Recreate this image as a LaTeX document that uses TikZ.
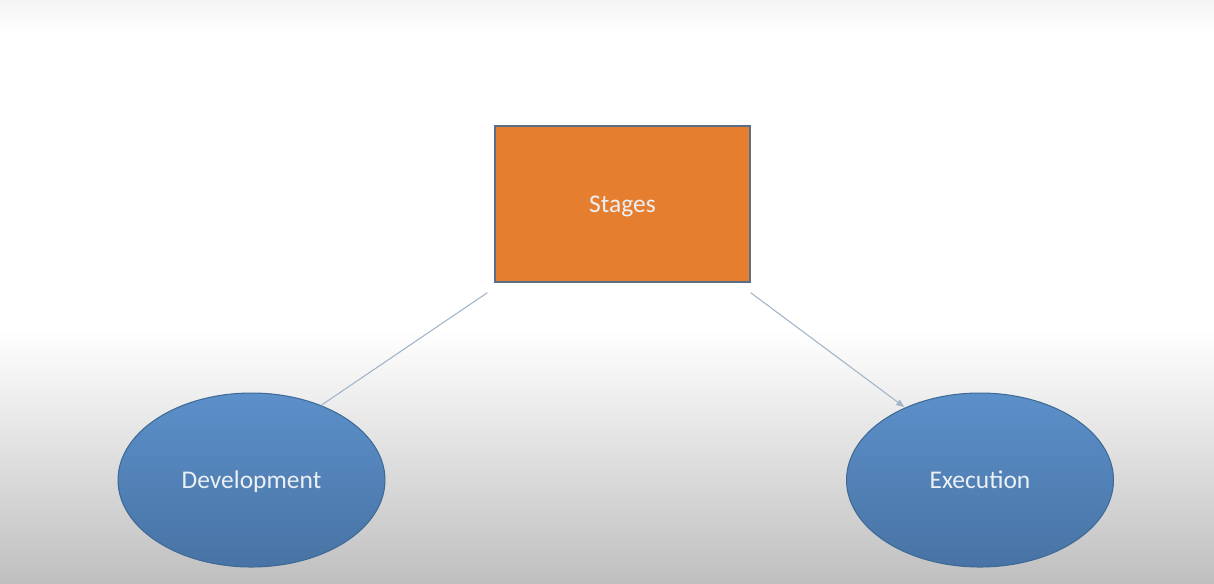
\documentclass[tikz,border=0pt]{standalone}
\usepackage{fontspec}
\setmainfont{Carlito}
\usetikzlibrary{positioning,shapes.geometric,arrows.meta}
\definecolor{stageorange}{RGB}{230,126,48}
\definecolor{stageedge}{RGB}{90,110,135}
\definecolor{ovaltop}{RGB}{92,144,202}
\definecolor{ovalbot}{RGB}{72,115,164}
\definecolor{ovaledge}{RGB}{62,106,150}
\definecolor{linkcol}{RGB}{160,180,200}
\definecolor{labelcol}{RGB}{236,240,245}
\tikzset{box/.style={draw=stageedge,line width=0.8pt,fill=stageorange,minimum width=5.1cm,minimum height=3.12cm,inner sep=0pt,text depth=0pt,text=labelcol,font=\fontsize{14.5}{17}\selectfont},
         oval/.style={ellipse,draw=ovaledge,line width=0.6pt,top color=ovaltop,bottom color=ovalbot,minimum width=5.34cm,minimum height=3.48cm,inner sep=0pt,text depth=0pt,text=labelcol,font=\fontsize{14.5}{17}\selectfont},
         link/.style={draw=linkcol,line width=0.6pt}
}
\begin{document}
\begin{tikzpicture}[x=0.02cm,y=-0.02cm]
\useasboundingbox (0,0) rectangle (1214,583);

% background
\fill[white] (0,0) rectangle (1214,583);
\shade[top color=white,bottom color=black!25] (0,330) rectangle (1214,583);
\shade[top color=black!4,bottom color=white] (0,0) rectangle (1214,32);

\node[box] (stages) at (622.5,204) {Stages};
\node[oval] (dev) at (251.5,480) {Development};
\node[oval] (exec) at (980,480) {Execution};

\draw[link] ([shift={(-7,10)}]stages.south west) -- (dev.47);
\draw[link,-{Latex[length=5pt,width=4pt]}] ([shift={(0,10)}]stages.south east) -- (exec.136);

\end{tikzpicture}
\end{document}
